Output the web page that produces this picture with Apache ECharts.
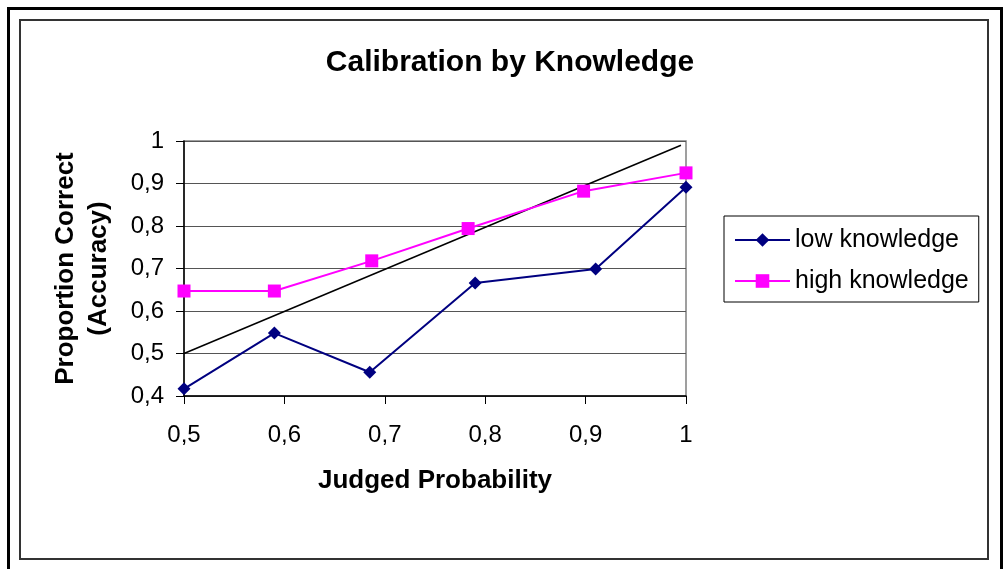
<!DOCTYPE html>
<html>
<head>
<meta charset="utf-8">
<script src="https://cdn.jsdelivr.net/npm/echarts@6/dist/echarts.min.js"></script>
<style>
  html, body { margin: 0; padding: 0; background: #fff; }
  #chart { width: 1004px; height: 569px; }
</style>
</head>
<body>
<div id="chart"></div>
<script>
const xTicks = [0.5, 0.6, 0.7, 0.8, 0.9, 1];
const yTicks = [0.4, 0.5, 0.6, 0.7, 0.8, 0.9, 1];

const lowX = [0.5, 0.59, 0.685, 0.79, 0.91, 1.0];
const lowY = [0.417, 0.548, 0.456, 0.666, 0.699, 0.891];

const highX = [0.5, 0.59, 0.687, 0.783, 0.898, 1.0];
const highY = [0.647, 0.647, 0.718, 0.794, 0.882, 0.925];

// perfect calibration line
const diagX = [0.5, 0.995];
const diagY = [0.5, 0.99];

const pairs = (xs, ys) => xs.map((x, i) => [x, ys[i]]);
const comma = v => (+v.toFixed(1)).toString().replace('.', ',');

const font = 'Liberation Sans, Arial, sans-serif';

const chart = echarts.init(document.getElementById('chart'));

chart.setOption({
  backgroundColor: '#fff',
  animation: false,
  graphic: [
    {
      type: 'rect',
      shape: { x: 8.5, y: 8.5, width: 993, height: 580 },
      style: { fill: 'none', stroke: '#000', lineWidth: 3 },
    },
    {
      type: 'rect',
      shape: { x: 20, y: 20, width: 968, height: 539 },
      style: { fill: 'none', stroke: '#333', lineWidth: 2 },
    },
  ],
  title: {
    text: 'Calibration by Knowledge',
    left: 505,
    textAlign: 'center',
    top: 43,
    textStyle: { fontFamily: font, fontSize: 30, fontWeight: 'bold', color: '#000' },
  },
  grid: {
    left: 184,
    right: 318,
    top: 141,
    bottom: 173,
    show: true,
    borderColor: '#808080',
    borderWidth: 1.5,
  },
  legend: {
    data: ['low knowledge', 'high knowledge'],
    orient: 'vertical',
    left: 724,
    top: 216,
    itemWidth: 55,
    itemHeight: 17,
    itemGap: 13,
    padding: [10, 10, 7, 10],
    borderColor: '#000',
    borderWidth: 1,
    textStyle: { fontFamily: font, fontSize: 25, color: '#000', lineHeight: 28 },
  },
  xAxis: {
    type: 'value',
    min: xTicks[0],
    max: xTicks[xTicks.length - 1],
    interval: 0.1,
    name: 'Judged Probability',
    nameLocation: 'middle',
    nameGap: 72,
    nameTextStyle: { fontFamily: font, fontSize: 26, fontWeight: 'bold', color: '#000' },
    axisLine: { lineStyle: { color: '#000', width: 1.5 } },
    axisTick: { show: true, length: 8, lineStyle: { color: '#000' } },
    axisLabel: { formatter: comma, fontFamily: font, fontSize: 24, color: '#000', margin: 27 },
    splitLine: { show: false },
  },
  yAxis: {
    type: 'value',
    min: yTicks[0],
    max: yTicks[yTicks.length - 1],
    interval: 0.1,
    name: 'Proportion Correct\n(Accuracy)',
    nameLocation: 'middle',
    nameRotate: 90,
    nameGap: 69,
    nameTextStyle: { fontFamily: font, fontSize: 26, fontWeight: 'bold', color: '#000', lineHeight: 33 },
    axisLine: { show: true, lineStyle: { color: '#000', width: 1.5 } },
    axisTick: { show: true, length: 8, lineStyle: { color: '#000' } },
    axisLabel: { formatter: comma, fontFamily: font, fontSize: 24, color: '#000', margin: 20 },
    splitLine: { show: true, lineStyle: { color: '#555', width: 1 } },
  },
  series: [
    {
      name: 'diagonal',
      type: 'line',
      data: pairs(diagX, diagY),
      symbol: 'none',
      lineStyle: { color: '#000', width: 1.5 },
      silent: true,
    },
    {
      name: 'low knowledge',
      type: 'line',
      data: pairs(lowX, lowY),
      symbol: 'diamond',
      symbolSize: 13,
      itemStyle: { color: '#000080' },
      lineStyle: { color: '#000080', width: 2 },
    },
    {
      name: 'high knowledge',
      type: 'line',
      data: pairs(highX, highY),
      symbol: 'rect',
      symbolSize: 13,
      itemStyle: { color: '#ff00ff' },
      lineStyle: { color: '#ff00ff', width: 2 },
    },
  ],
});
</script>
</body>
</html>
